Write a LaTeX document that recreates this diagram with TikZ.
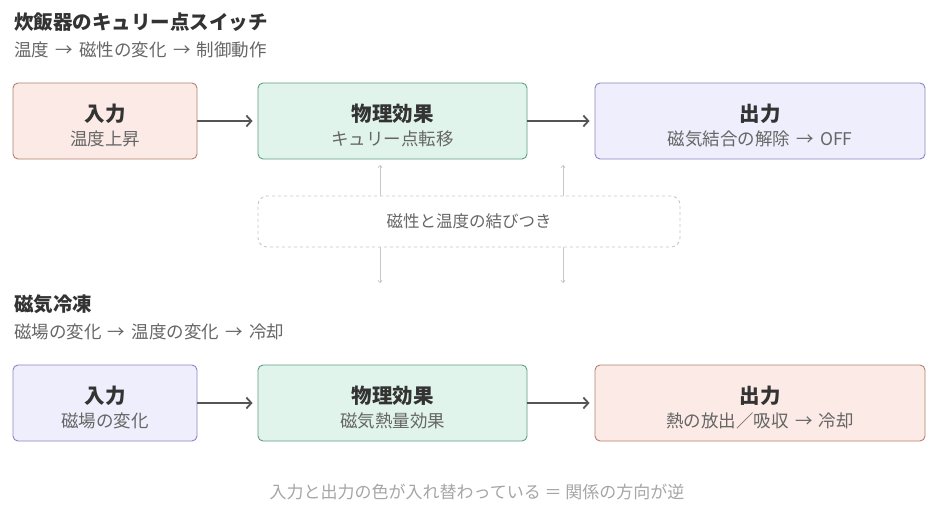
\documentclass[tikz,border=0pt]{standalone}
\usepackage{fontspec}
\setmainfont{Noto Sans CJK JP}
\usepackage{tikz}
\usetikzlibrary{arrows.meta}

\definecolor{warmfill}{HTML}{FBEAE5}
\definecolor{warmline}{HTML}{B5816F}
\definecolor{greenfill}{HTML}{E1F4EC}
\definecolor{greenline}{HTML}{5E9E83}
\definecolor{lilacfill}{HTML}{EEEEFC}
\definecolor{lilacline}{HTML}{8C84C6}
\definecolor{inkdark}{HTML}{333333}
\definecolor{inkgray}{HTML}{666666}
\definecolor{arrowgray}{HTML}{555555}
\definecolor{faint}{HTML}{C8C8C8}

\newcommand{\arr}{\hspace{0.36em}→\hspace{0.36em}}

\begin{document}
\begin{tikzpicture}[x=1pt, y=-1pt,
	box/.style={rectangle, rounded corners=5pt, line width=0.9pt, minimum height=76pt, align=center, inner sep=0pt, font=\fontsize{17.5}{24}\selectfont},
	warm/.style={box, fill=warmfill, draw=warmline},
	green/.style={box, fill=greenfill, draw=greenline},
	lilac/.style={box, fill=lilacfill, draw=lilacline},
	flow/.style={-{Straight Barb[length=5pt,width=11pt]}, line width=1.8pt, draw=arrowgray, shorten >=5pt},
	thin/.style={-{Straight Barb[length=2pt,width=4pt]}, line width=0.8pt, draw=faint},
	heading/.style={anchor=west, inner sep=0pt, text=inkdark, font=\bfseries\fontsize{19.5}{22}\selectfont},
	sub/.style={anchor=west, inner sep=0pt, text=inkgray, font=\fontsize{17.5}{20}\selectfont}]
	\useasboundingbox[fill=white] (0,0) rectangle (945,506);
	\newcommand{\boxtext}[2]{{\rule{0pt}{27pt}\bfseries\fontsize{20.5}{24}\selectfont #1}\\{\color{inkgray}#2}}

	% 炊飯器
	\node[heading] (titleA) at (14,22) {炊飯器のキュリー点スイッチ};
	\node[sub] (subA) at (14,50) {温度\arr 磁性の変化\arr 制御動作};
	\node[warm, minimum width=184pt, text=inkdark] (inA) at (105,121) {\boxtext{入力}{温度上昇}};
	\node[green, minimum width=269pt, text=inkdark] (effA) at (392.5,121) {\boxtext{物理効果}{キュリー点転移}};
	\node[lilac, minimum width=330pt, text=inkdark] (outA) at (760,121) {\boxtext{出力}{磁気結合の解除\arr OFF}};
	\draw[flow] (inA) -- (effA);
	\draw[flow] (effA) -- (outA);

	% つながり
	\node[rectangle, rounded corners=9pt, draw=faint, dashed, line width=0.9pt, minimum width=422pt, minimum height=51pt, text=inkgray, font=\fontsize{16.5}{20}\selectfont] (link) at (469,221.5) {磁性と温度の結びつき};
	\coordinate (upL) at (380,165);
	\coordinate (upR) at (563,165);
	\coordinate (dnL) at (380,283);
	\coordinate (dnR) at (563,283);
	\draw[thin] (link.north -| upL) -- (upL);
	\draw[thin] (link.north -| upR) -- (upR);
	\draw[thin] (link.south -| dnL) -- (dnL);
	\draw[thin] (link.south -| dnR) -- (dnR);

	% 磁気冷凍
	\node[heading] (titleB) at (14,304) {磁気冷凍};
	\node[sub] (subB) at (14,332) {磁場の変化\arr 温度の変化\arr 冷却};
	\node[lilac, minimum width=184pt, text=inkdark] (inB) at (105,403) {\boxtext{入力}{磁場の変化}};
	\node[green, minimum width=269pt, text=inkdark] (effB) at (392.5,403) {\boxtext{物理効果}{磁気熱量効果}};
	\node[warm, minimum width=330pt, text=inkdark] (outB) at (760,403) {\boxtext{出力}{熱の放出／吸収\arr 冷却}};
	\draw[flow] (inB) -- (effB);
	\draw[flow] (effB) -- (outB);

	\node[text=gray!70, font=\fontsize{17}{20}\selectfont] (note) at (477,492) {入力と出力の色が入れ替わっている ＝ 関係の方向が逆};
\end{tikzpicture}
\end{document}
